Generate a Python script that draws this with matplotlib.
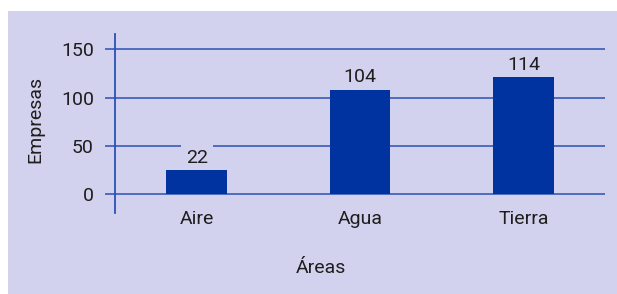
import matplotlib
matplotlib.use("Agg")
import matplotlib.pyplot as plt
from matplotlib.patches import Rectangle

# Data
categories = ["Aire", "Agua", "Tierra"]
bar_heights = [25, 108, 121]          # heights as drawn in the chart
value_labels = ["22", "104", "114"]   # labels printed above the bars
y_ticks = [0, 50, 100, 150]

W, H = 617, 294
BG = "#d2d2ee"
BAR = "#0033a0"
GRID = "#2a52b2"
TXT = "#1e1e1e"
FONT = "Roboto"

fig = plt.figure(figsize=(W / 100, H / 100), dpi=100, facecolor="white")
fig.patches.append(Rectangle((8 / W, 0), 1, 1 - 11 / H, transform=fig.transFigure,
                             facecolor=BG, edgecolor="none", zorder=-10))

left, right, top, bottom = 115, 605, 34, 212.7
ax = fig.add_axes([left / W, 1 - bottom / H, (right - left) / W, (bottom - top) / H])
ax.set_zorder(5)
ax.patch.set_alpha(0)

x = list(range(len(categories)))
ax.set_xlim(-0.5, 2.5)
ax.set_ylim(-19, 165.6)

for t in y_ticks:
    ax.axhline(t, color=GRID, lw=1.1, zorder=1)

ax.bar(x, bar_heights, width=0.37, color=BAR, zorder=6)

for xi, h, lab in zip(x, bar_heights, value_labels):
    ax.annotate(lab, (xi, h), xytext=(0, 5.4), textcoords="offset points",
                ha="center", va="baseline", fontsize=14, color=TXT, family=FONT,
                zorder=4,
                bbox=dict(boxstyle="square,pad=0.25", facecolor=BG, edgecolor="none"))

for xi, c in zip(x, categories):
    ax.annotate(c, (xi, 0), xytext=(0, -21.4), textcoords="offset points",
                ha="center", va="baseline", fontsize=14, color=TXT, family=FONT)

ax.set_xticks([])
ax.set_yticks(y_ticks)
ax.set_yticklabels([str(t) for t in y_ticks], fontsize=14, color=TXT, family=FONT)
ax.tick_params(axis="y", direction="out", length=7.2, width=1.1, color=GRID, pad=8)

for s in ["top", "right", "bottom"]:
    ax.spines[s].set_visible(False)
ax.spines["left"].set_color(GRID)
ax.spines["left"].set_linewidth(1.3)

fig.text(35 / W, 1 - 119 / H, "Empresas", rotation=90, ha="center", va="center",
         fontsize=14, color=TXT, family=FONT)
fig.text(321 / W, 1 - 273 / H, "Áreas", ha="center", va="baseline",
         fontsize=14, color=TXT, family=FONT)

fig.savefig("out.png", dpi=100, facecolor="white")
